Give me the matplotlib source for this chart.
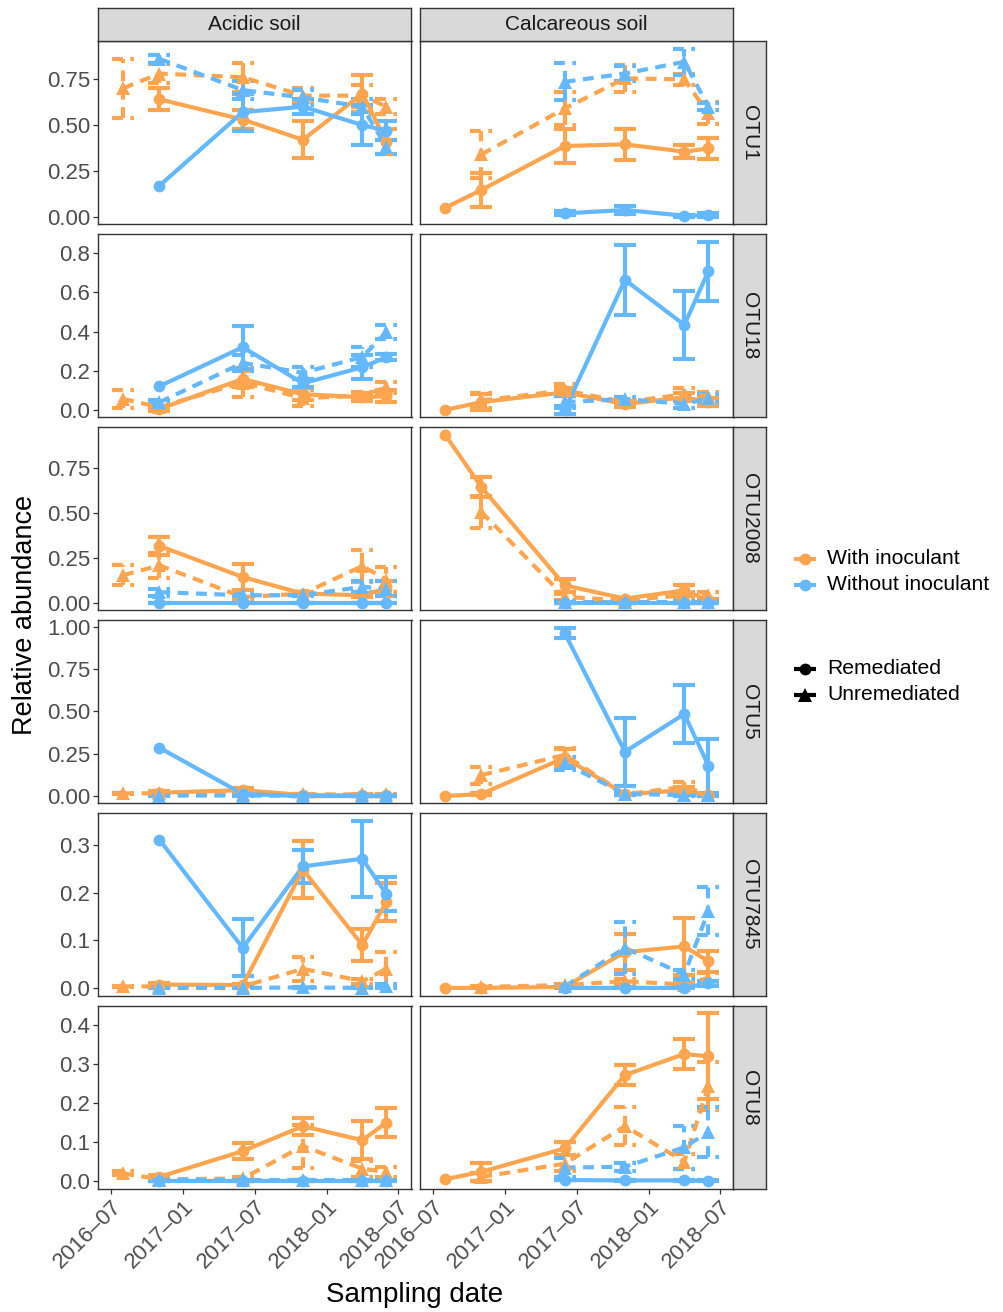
import datetime as dt
import matplotlib
matplotlib.use("Agg")
import matplotlib.pyplot as plt
import matplotlib.dates as mdates
from matplotlib.lines import Line2D

plt.rcParams['font.family'] = ['Liberation Sans', 'DejaVu Sans']

# ---------------- data ----------------
sampling_dates = ["2016-08-01", "2016-11-01", "2017-06-01", "2017-11-01", "2018-04-01", "2018-06-01"]
soils = ["Acidic soil", "Calcareous soil"]
otus = ["OTU1", "OTU18", "OTU2008", "OTU5", "OTU7845", "OTU8"]
inoculant_levels = ["With inoculant", "Without inoculant"]
remediation_levels = ["Remediated", "Unremediated"]
# series rows in every table: With/Remediated, With/Unremediated, Without/Remediated, Without/Unremediated
N = None

otu1_acidic_mean = [[N, 0.64, 0.53, 0.42, 0.67, 0.41],
                    [0.70, 0.78, 0.76, 0.66, 0.66, 0.60],
                    [N, 0.17, 0.57, 0.60, 0.50, 0.47],
                    [N, 0.86, 0.69, 0.65, 0.60, 0.38]]
otu1_acidic_se = [[N, 0.06, 0.05, 0.10, 0.10, 0.07],
                  [0.16, 0.05, 0.08, 0.04, 0.06, 0.04],
                  [N, N, 0.10, 0.04, 0.11, 0.05],
                  [N, 0.02, 0.05, 0.04, 0.04, 0.04]]
otu1_calc_mean = [[0.05, 0.147, 0.386, 0.395, 0.355, 0.373],
                  [N, 0.34, 0.59, 0.754, 0.748, 0.563],
                  [N, N, 0.02, 0.038, 0.007, 0.01],
                  [N, N, 0.735, 0.78, 0.844, 0.60]]
otu1_calc_se = [[N, 0.09, 0.095, 0.085, 0.035, 0.055],
                [N, 0.13, 0.09, 0.075, 0.03, 0.06],
                [N, N, 0.01, 0.02, 0.005, 0.01],
                [N, N, 0.10, 0.04, 0.07, 0.02]]

otu18_acidic_mean = [[N, 0.005, 0.158, 0.08, 0.065, 0.07],
                     [0.056, 0.014, 0.14, 0.06, 0.073, 0.115],
                     [N, 0.121, 0.32, 0.136, 0.218, 0.269],
                     [N, 0.039, 0.24, 0.19, 0.27, 0.397]]
otu18_acidic_se = [[N, 0.01, 0.04, 0.03, 0.02, 0.03],
                   [0.045, 0.01, 0.075, 0.04, 0.02, 0.03],
                   [N, N, 0.11, 0.02, 0.06, 0.015],
                   [N, 0.01, 0.04, 0.03, 0.05, 0.035]]
otu18_calc_mean = [[0.0, 0.04, 0.09, 0.03, 0.065, 0.04],
                   [N, 0.048, 0.10, 0.04, 0.08, 0.073],
                   [N, N, 0.0, 0.664, 0.434, 0.708],
                   [N, N, 0.04, 0.056, 0.03, 0.06]]
otu18_calc_se = [[N, 0.04, 0.02, 0.015, 0.02, 0.02],
                 [N, 0.04, 0.03, 0.02, 0.03, 0.02],
                 [N, N, 0.02, 0.18, 0.175, 0.15],
                 [N, N, 0.03, 0.01, 0.02, 0.02]]

otu2008_acidic_mean = [[N, 0.317, 0.144, 0.052, 0.043, 0.08],
                       [0.154, 0.209, 0.033, 0.052, 0.205, 0.13],
                       [N, 0.0, 0.0, 0.0, 0.0, 0.0],
                       [N, 0.06, 0.043, 0.043, 0.09, 0.08]]
otu2008_acidic_se = [[N, 0.05, 0.07, 0.01, 0.01, 0.04],
                     [0.055, 0.07, 0.01, 0.01, 0.09, 0.07],
                     [N, 0.002, 0.002, 0.002, 0.002, 0.002],
                     [N, 0.02, 0.005, 0.005, 0.03, 0.04]]
otu2008_calc_mean = [[0.935, 0.644, 0.098, 0.024, 0.07, 0.015],
                     [N, 0.506, 0.033, 0.015, 0.043, 0.043],
                     [N, N, 0.0, 0.0, 0.0, 0.0],
                     [N, N, 0.005, 0.005, 0.005, 0.005]]
otu2008_calc_se = [[N, 0.055, 0.035, 0.005, 0.03, 0.005],
                   [N, 0.09, 0.015, 0.005, 0.02, 0.02],
                   [N, N, 0.002, 0.002, 0.002, 0.002],
                   [N, N, 0.004, 0.004, 0.004, 0.004]]

otu5_acidic_mean = [[N, 0.02, 0.035, 0.006, 0.004, 0.004],
                    [0.016, 0.016, 0.01, 0.01, 0.01, 0.01],
                    [N, 0.286, 0.012, 0.0, 0.0, 0.0],
                    [N, 0.003, 0.003, 0.002, 0.002, 0.002]]
otu5_acidic_se = [[N, 0.01, 0.01, 0.004, 0.003, 0.003],
                  [0.005, 0.008, 0.006, 0.005, 0.005, 0.005],
                  [N, N, 0.005, 0.002, 0.002, 0.002],
                  [N, 0.002, 0.002, 0.002, 0.002, 0.002]]
otu5_calc_mean = [[0.0, 0.012, 0.227, 0.01, 0.035, 0.005],
                  [N, 0.124, 0.243, 0.01, 0.055, 0.01],
                  [N, N, 0.963, 0.262, 0.485, 0.18],
                  [N, N, 0.193, 0.012, 0.006, 0.004]]
otu5_calc_se = [[N, 0.005, 0.05, 0.005, 0.02, 0.005],
                [N, 0.05, 0.04, 0.005, 0.03, 0.005],
                [N, N, 0.03, 0.20, 0.17, 0.16],
                [N, N, 0.04, 0.005, 0.005, 0.003]]

otu7845_acidic_mean = [[N, 0.007, 0.006, 0.248, 0.09, 0.18],
                       [0.003, 0.003, 0.003, 0.04, 0.014, 0.04],
                       [N, 0.311, 0.084, 0.255, 0.271, 0.197],
                       [N, 0.0, 0.0, 0.001, 0.0, 0.004]]
otu7845_acidic_se = [[N, 0.003, 0.003, 0.06, 0.034, 0.04],
                     [0.002, 0.002, 0.002, 0.025, 0.005, 0.035],
                     [N, N, 0.06, 0.034, 0.08, 0.035],
                     [N, 0.001, 0.001, 0.001, 0.001, 0.005]]
otu7845_calc_mean = [[0.0, 0.0, 0.002, 0.075, 0.087, 0.056],
                     [N, 0.002, 0.006, 0.014, 0.007, 0.021],
                     [N, N, 0.0, 0.0, 0.0, 0.01],
                     [N, N, 0.003, 0.084, 0.028, 0.161]]
otu7845_calc_se = [[N, 0.001, 0.001, 0.038, 0.06, 0.022],
                   [N, 0.001, 0.003, 0.005, 0.004, 0.01],
                   [N, N, 0.001, 0.001, 0.001, 0.005],
                   [N, N, 0.002, 0.055, 0.01, 0.05]]

otu8_acidic_mean = [[N, 0.011, 0.077, 0.141, 0.105, 0.15],
                    [0.02, 0.005, 0.007, 0.09, 0.032, 0.024],
                    [N, 0.001, 0.001, 0.001, 0.001, 0.001],
                    [N, 0.002, 0.002, 0.002, 0.002, 0.002]]
otu8_acidic_se = [[N, 0.005, 0.02, 0.022, 0.048, 0.037],
                  [0.005, 0.003, 0.003, 0.055, 0.02, 0.012],
                  [N, 0.001, 0.001, 0.001, 0.001, 0.001],
                  [N, 0.001, 0.001, 0.001, 0.001, 0.001]]
otu8_calc_mean = [[0.005, 0.024, 0.084, 0.272, 0.326, 0.32],
                  [N, 0.011, 0.045, 0.141, 0.05, 0.244],
                  [N, N, 0.003, 0.002, 0.002, 0.001],
                  [N, N, 0.035, 0.037, 0.087, 0.126]]
otu8_calc_se = [[N, 0.023, 0.017, 0.025, 0.038, 0.11],
                [N, 0.01, 0.02, 0.048, 0.02, 0.062],
                [N, N, 0.001, 0.001, 0.001, 0.001],
                [N, N, 0.025, 0.01, 0.055, 0.064]]

ytick_values = [[0, 0.25, 0.5, 0.75], [0, 0.2, 0.4, 0.6, 0.8], [0, 0.25, 0.5, 0.75],
                [0, 0.25, 0.5, 0.75, 1.0], [0, 0.1, 0.2, 0.3], [0, 0.1, 0.2, 0.3, 0.4]]
ytick_labels = [["0.00", "0.25", "0.50", "0.75"], ["0.0", "0.2", "0.4", "0.6", "0.8"],
                ["0.00", "0.25", "0.50", "0.75"], ["0.00", "0.25", "0.50", "0.75", "1.00"],
                ["0.0", "0.1", "0.2", "0.3"], ["0.0", "0.1", "0.2", "0.3", "0.4"]]
xtick_dates = ["2016-07-01", "2017-01-01", "2017-07-01", "2018-01-01", "2018-07-01"]
xtick_labels = ["2016\u201307", "2017\u201301", "2017\u201307", "2018\u201301", "2018\u201307"]

MEANS = {
    ("OTU1", 0): otu1_acidic_mean, ("OTU1", 1): otu1_calc_mean,
    ("OTU18", 0): otu18_acidic_mean, ("OTU18", 1): otu18_calc_mean,
    ("OTU2008", 0): otu2008_acidic_mean, ("OTU2008", 1): otu2008_calc_mean,
    ("OTU5", 0): otu5_acidic_mean, ("OTU5", 1): otu5_calc_mean,
    ("OTU7845", 0): otu7845_acidic_mean, ("OTU7845", 1): otu7845_calc_mean,
    ("OTU8", 0): otu8_acidic_mean, ("OTU8", 1): otu8_calc_mean,
}
SES = {
    ("OTU1", 0): otu1_acidic_se, ("OTU1", 1): otu1_calc_se,
    ("OTU18", 0): otu18_acidic_se, ("OTU18", 1): otu18_calc_se,
    ("OTU2008", 0): otu2008_acidic_se, ("OTU2008", 1): otu2008_calc_se,
    ("OTU5", 0): otu5_acidic_se, ("OTU5", 1): otu5_calc_se,
    ("OTU7845", 0): otu7845_acidic_se, ("OTU7845", 1): otu7845_calc_se,
    ("OTU8", 0): otu8_acidic_se, ("OTU8", 1): otu8_calc_se,
}

# ---------------- style / layout ----------------
W, H, DPI = 1004, 1312, 100
ORANGE = "#FFA54F"
BLUE = "#63B8FF"
series_color = [ORANGE, ORANGE, BLUE, BLUE]
series_marker = ["o", "^", "o", "^"]
DASH = (0, (2.6, 1.8))
series_ls = ["-", DASH, "-", DASH]
LW = 3.0
BORDER = "#333333"
STRIP_BG = "#D9D9D9"
TICK_COL = "#4D4D4D"

row_ylim = [(-0.038, 0.957), (-0.036, 0.898), (-0.039, 0.978),
            (-0.041, 1.041), (-0.017, 0.367), (-0.020, 0.449)]
col_x0 = [98, 420]
panel_w = 313.5
row_y0 = [41, 234, 427, 620, 813, 1006]
panel_h = 183
strip_h = 33
strip_w = 33
x_left = dt.date(2016, 5, 29)
x_right = dt.date(2018, 8, 4)
cap_half_days = 28


def fig_rect(x, y, w, h):
    return [x / W, 1 - (y + h) / H, w / W, h / H]


fig = plt.figure(figsize=(W / DPI, H / DPI), dpi=DPI)
fig.patch.set_facecolor("white")

xnum = mdates.date2num([dt.date.fromisoformat(d) for d in sampling_dates])
xt = mdates.date2num([dt.date.fromisoformat(d) for d in xtick_dates])

for r, otu in enumerate(otus):
    for c in range(2):
        ax = fig.add_axes(fig_rect(col_x0[c], row_y0[r], panel_w, panel_h))
        ax.set_facecolor("white")
        means = MEANS[(otu, c)]
        ses = SES[(otu, c)]
        for s in range(4):
            xs = [xnum[i] for i, v in enumerate(means[s]) if v is not None]
            ys = [v for v in means[s] if v is not None]
            # error bars
            for i, v in enumerate(means[s]):
                e = ses[s][i]
                if v is None or e is None:
                    continue
                lo, hi = v - e, v + e
                kw = dict(color=series_color[s], lw=LW, ls=series_ls[s],
                          solid_capstyle="butt", dash_capstyle="butt", zorder=2 + s * 0.01)
                ax.plot([xnum[i], xnum[i]], [lo, hi], **kw)
                ax.plot([xnum[i] - cap_half_days, xnum[i] + cap_half_days], [hi, hi], **kw)
                ax.plot([xnum[i] - cap_half_days, xnum[i] + cap_half_days], [lo, lo], **kw)
            ax.plot(xs, ys, color=series_color[s], lw=LW, ls=series_ls[s],
                    solid_capstyle="butt", dash_capstyle="butt", zorder=3 + s * 0.01)
            ax.plot(xs, ys, ls="none", marker=series_marker[s],
                    ms=8.5 if series_marker[s] == "o" else 9.5,
                    mfc=series_color[s], mec=series_color[s], mew=0, zorder=4 + s * 0.01)
        ax.set_xlim(mdates.date2num(x_left), mdates.date2num(x_right))
        ax.set_ylim(*row_ylim[r])
        for sp in ax.spines.values():
            sp.set_color(BORDER)
            sp.set_linewidth(1.0)
        ax.tick_params(axis="both", which="both", length=3.5, width=0.9, color=BORDER,
                       labelsize=16, labelcolor=TICK_COL, pad=2)
        if c == 0:
            ax.set_yticks(ytick_values[r])
            ax.set_yticklabels(ytick_labels[r])
        else:
            ax.set_yticks([])
        if r == len(otus) - 1:
            ax.set_xticks(xt)
            ax.set_xticklabels(xtick_labels, rotation=45, ha="right", va="top",
                               rotation_mode="anchor")
        else:
            ax.set_xticks([])

    # right strip
    sax = fig.add_axes(fig_rect(col_x0[1] + panel_w, row_y0[r], strip_w, panel_h))
    sax.set_facecolor(STRIP_BG)
    sax.set_xticks([]); sax.set_yticks([])
    for sp in sax.spines.values():
        sp.set_color(BORDER); sp.set_linewidth(1.0)
    sax.text(0.5, 0.5, otu, rotation=-90, ha="center", va="center",
             fontsize=15, color="#1A1A1A", transform=sax.transAxes)

for c, soil in enumerate(soils):
    sax = fig.add_axes(fig_rect(col_x0[c], row_y0[0] - strip_h, panel_w, strip_h))
    sax.set_facecolor(STRIP_BG)
    sax.set_xticks([]); sax.set_yticks([])
    for sp in sax.spines.values():
        sp.set_color(BORDER); sp.set_linewidth(1.0)
    sax.text(0.5, 0.5, soil, ha="center", va="center", fontsize=15,
             color="#1A1A1A", transform=sax.transAxes)

# axis titles
fig.text(25 / W, 1 - 615 / H, "Relative abundance", rotation=90, ha="center", va="center",
         fontsize=19.5, color="black")
fig.text(415 / W, 1 - 1295 / H, "Sampling date", ha="center", va="center",
         fontsize=20, color="black")

# legends drawn in a full-figure overlay axes
lax = fig.add_axes([0, 0, 1, 1], zorder=-1)
lax.set_xlim(0, W); lax.set_ylim(H, 0); lax.axis("off")
leg_rows = [(559, inoculant_levels[0], ORANGE, "o"),
            (585, inoculant_levels[1], BLUE, "o"),
            (669, remediation_levels[0], "black", "o"),
            (695, remediation_levels[1], "black", "^")]
for y, label, col, mk in leg_rows:
    lax.add_line(Line2D([794, 816], [y, y], color=col, lw=LW, solid_capstyle="butt"))
    lax.add_line(Line2D([805], [y], marker=mk, ms=8.5 if mk == "o" else 9.5,
                        mfc=col, mec=col, mew=0, ls="none"))
    lax.text(827, y, label, ha="left", va="center", fontsize=15.2, color="black")

fig.savefig("out.png", dpi=DPI, facecolor="white")
